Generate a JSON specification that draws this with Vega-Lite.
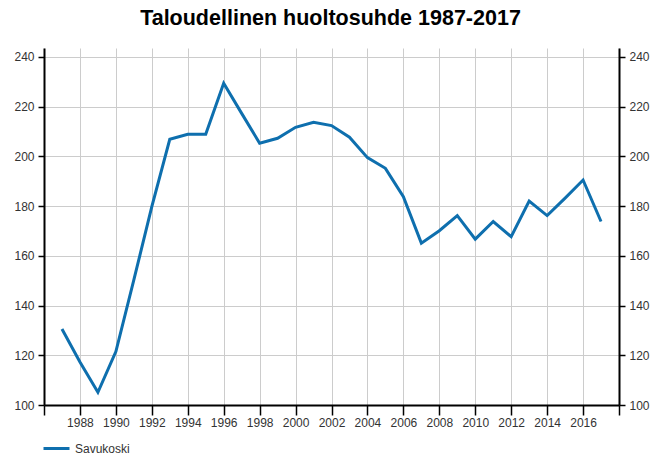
{
  "$schema": "https://vega.github.io/schema/vega-lite/v6.json",
  "autosize": "none",
  "width": 575,
  "height": 357,
  "padding": {"left": 44, "top": 48, "right": 35, "bottom": 49},
  "background": "white",
  "title": {
    "text": "Taloudellinen huoltosuhde 1987-2017",
    "font": "Liberation Sans",
    "fontSize": 21.5,
    "fontWeight": "bold",
    "color": "#000000",
    "anchor": "middle",
    "offset": 19,
    "dx": -1
  },
  "config": {
    "view": {"stroke": null},
    "axis": {
      "labelFont": "Liberation Sans",
      "labelFontSize": 12,
      "labelColor": "#333333",
      "domainColor": "#000000",
      "domainWidth": 2,
      "tickColor": "#000000",
      "tickWidth": 1.5,
      "gridColor": "#cccccc",
      "gridWidth": 1,
      "title": null
    }
  },
  "data": {
    "values": [
      {"year": 1987, "value": 130.6, "series": "Savukoski"},
      {"year": 1988, "value": 117.3, "series": "Savukoski"},
      {"year": 1989, "value": 105.1, "series": "Savukoski"},
      {"year": 1990, "value": 121.5, "series": "Savukoski"},
      {"year": 1991, "value": 150.3, "series": "Savukoski"},
      {"year": 1992, "value": 179.8, "series": "Savukoski"},
      {"year": 1993, "value": 206.9, "series": "Savukoski"},
      {"year": 1994, "value": 208.9, "series": "Savukoski"},
      {"year": 1995, "value": 208.9, "series": "Savukoski"},
      {"year": 1996, "value": 229.4, "series": "Savukoski"},
      {"year": 1997, "value": 217.3, "series": "Savukoski"},
      {"year": 1998, "value": 205.3, "series": "Savukoski"},
      {"year": 1999, "value": 207.3, "series": "Savukoski"},
      {"year": 2000, "value": 211.7, "series": "Savukoski"},
      {"year": 2001, "value": 213.7, "series": "Savukoski"},
      {"year": 2002, "value": 212.4, "series": "Savukoski"},
      {"year": 2003, "value": 207.7, "series": "Savukoski"},
      {"year": 2004, "value": 199.5, "series": "Savukoski"},
      {"year": 2005, "value": 195.2, "series": "Savukoski"},
      {"year": 2006, "value": 183.8, "series": "Savukoski"},
      {"year": 2007, "value": 165.1, "series": "Savukoski"},
      {"year": 2008, "value": 170.1, "series": "Savukoski"},
      {"year": 2009, "value": 176.2, "series": "Savukoski"},
      {"year": 2010, "value": 166.7, "series": "Savukoski"},
      {"year": 2011, "value": 173.8, "series": "Savukoski"},
      {"year": 2012, "value": 167.7, "series": "Savukoski"},
      {"year": 2013, "value": 182.0, "series": "Savukoski"},
      {"year": 2014, "value": 176.2, "series": "Savukoski"},
      {"year": 2015, "value": 183.2, "series": "Savukoski"},
      {"year": 2016, "value": 190.5, "series": "Savukoski"},
      {"year": 2017, "value": 173.8, "series": "Savukoski"}
    ]
  },
  "layer": [
    {
      "mark": {"type": "line", "strokeWidth": 3, "strokeJoin": "miter"},
      "encoding": {
        "x": {
          "field": "year",
          "type": "quantitative",
          "scale": {"domain": [1986, 2018], "nice": false, "zero": false},
          "axis": {
            "values": [1986, 1988, 1990, 1992, 1994, 1996, 1998, 2000, 2002, 2004, 2006, 2008, 2010, 2012, 2014, 2016, 2018],
            "format": "d",
            "labelExpr": "datum.value == 1986 || datum.value == 2018 ? '' : datum.label",
            "tickSize": 10,
            "labelPadding": 2,
            "grid": true,
            "labelFlush": false,
            "labelOverlap": false
          }
        },
        "y": {
          "field": "value",
          "type": "quantitative",
          "scale": {"domain": [100, 243.6], "nice": false, "zero": false},
          "axis": {
            "values": [100, 120, 140, 160, 180, 200, 220, 240],
            "tickSize": 6,
            "labelPadding": 4,
            "grid": true
          }
        },
        "color": {
          "field": "series",
          "type": "nominal",
          "scale": {"range": ["#0e6fae"]},
          "legend": {
            "title": null,
            "orient": "none",
            "legendX": -2,
            "legendY": 386,
            "padding": 0,
            "symbolType": "stroke",
            "symbolSize": 676,
            "symbolStrokeWidth": 3,
            "labelFont": "Liberation Sans",
            "labelFontSize": 12,
            "labelColor": "#333333",
            "labelOffset": 4
          }
        }
      }
    },
    {
      "mark": {"type": "rule", "opacity": 0},
      "encoding": {
        "y": {
          "field": "value",
          "type": "quantitative",
          "axis": {
            "orient": "right",
            "values": [100, 120, 140, 160, 180, 200, 220, 240],
            "tickSize": 6,
            "labelPadding": 4,
            "grid": false
          }
        }
      }
    }
  ],
  "resolve": {"scale": {"y": "shared"}, "axis": {"y": "independent"}}
}
